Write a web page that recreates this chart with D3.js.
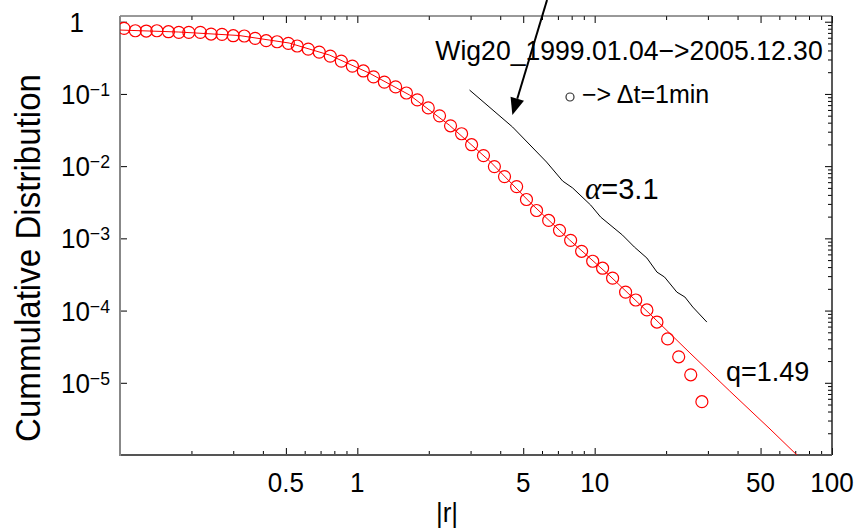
<!DOCTYPE html>
<html>
<head>
<meta charset="utf-8">
<script src="https://cdn.jsdelivr.net/npm/d3@7"></script>
<style>
  html, body { margin: 0; padding: 0; background: #fff; }
  svg { display: block; }
  text { font-family: Arial, "Liberation Sans", Helvetica, sans-serif; fill: #000; }
</style>
</head>
<body>
<div id="chart"></div>
<script>
// Data
const circleR = [0.104,0.116,0.129,0.143,0.160,0.177,0.195,0.218,0.242,0.269,0.300,0.334,0.371,0.413,0.459,0.512,0.558,
  0.621,0.691,0.769,0.856,0.953,1.06,1.17,1.30,1.45,1.61,1.79,1.99,2.22,2.47,2.75,3.03,3.40,3.78,4.17,4.69,5.16,5.69,
  6.40,7.11,7.92,8.81,9.81,10.8,11.9,13.5,14.9,16.6,18.3,20.3,22.6,25.4,28.3];
const circleP = [0.810,0.750,0.743,0.750,0.727,0.713,0.713,0.713,0.675,0.669,0.640,0.634,0.589,0.546,0.528,0.502,0.461,
  0.418,0.380,0.334,0.285,0.243,0.208,0.172,0.146,0.125,0.103,0.0826,0.0641,0.0497,0.0362,0.0281,0.0198,0.0140,
  0.00985,0.00716,0.00521,0.00345,0.00243,0.00177,0.00129,0.000938,0.000662,0.000482,0.000386,0.000281,0.000180,
  0.000140,0.000102,0.0000694,0.0000405,0.0000229,0.0000129,0.00000547];

// q-exponential fit (red line)
const fitR = [0.1,0.177,0.318,0.516,0.762,1.12,1.66,2.44,3.61,5.32,7.85,11.6,17.1,25.2,37.1,54.8,71.9];
const fitP = [0.767,0.720,0.644,0.507,0.346,0.195,0.0966,0.0370,0.01177,0.00319,0.000947,0.000301,0.0000895,
  0.0000259,0.00000767,0.00000229,9.66e-7];

// power law guide (black line)
const powR = [2.97,4.51,6.27,7.33,8.08,9.62,10.6,13.1,14.7,16.6,18.3,19.7,22.2,24.0,25.9,29.7];
const powP = [0.1132,0.0348,0.0114,0.00622,0.00498,0.00289,0.00197,0.00111,0.000758,0.000534,0.000341,0.000291,
  0.000180,0.000154,0.000112,0.0000693];

const xTicks = [0.5, 1, 5, 10, 50, 100];
const xTickLabels = ["0.5", "1", "5", "10", "50", "100"];
const yTicks = [1, 1e-1, 1e-2, 1e-3, 1e-4, 1e-5];
const yTickExp = [0, -1, -2, -3, -4, -5];

// arrow annotation in data coords: [from, to]
const arrowFrom = [6.3, 2.0];
const arrowTo = [4.5, 0.051];

const W = 857, H = 531;
const plot = { left: 120, right: 832, top: 16, bottom: 455 };

const svg = d3.select("#chart").append("svg")
  .attr("width", W).attr("height", H);

const x = d3.scaleLog().domain([0.1, 100]).range([plot.left, plot.right]);
const y = d3.scaleLog().domain([1e-6, 1.2]).range([plot.bottom, plot.top]);

svg.append("defs").append("clipPath").attr("id", "clip")
  .append("rect")
  .attr("x", plot.left).attr("y", plot.top)
  .attr("width", plot.right - plot.left).attr("height", plot.bottom - plot.top);

// minor ticks (all 1..9 x 10^n positions)
const minorX = x.ticks().filter(v => !xTicks.some(t => Math.abs(t - v) / t < 1e-6));
const minorY = y.ticks().filter(v => !yTicks.some(t => Math.abs(t - v) / t < 1e-6));

function tickAxis(axis, transform) {
  const g = svg.append("g").attr("transform", transform).call(axis);
  g.select(".domain").remove();
  g.selectAll("line").attr("stroke", "#000").attr("stroke-width", 1);
  return g;
}

// bottom / top
tickAxis(d3.axisBottom(x).tickValues(minorX).tickSize(-4).tickSizeOuter(0).tickFormat(""), `translate(0,${plot.bottom})`);
tickAxis(d3.axisBottom(x).tickValues(xTicks).tickSize(-7).tickSizeOuter(0).tickFormat(""), `translate(0,${plot.bottom})`);
tickAxis(d3.axisTop(x).tickValues(minorX).tickSize(-4).tickSizeOuter(0).tickFormat(""), `translate(0,${plot.top})`);
tickAxis(d3.axisTop(x).tickValues(xTicks).tickSize(-7).tickSizeOuter(0).tickFormat(""), `translate(0,${plot.top})`);
// left (majors only) / right
tickAxis(d3.axisLeft(y).tickValues(yTicks).tickSize(-7).tickSizeOuter(0).tickFormat(""), `translate(${plot.left},0)`);
tickAxis(d3.axisRight(y).tickValues(minorY).tickSize(-4).tickSizeOuter(0).tickFormat(""), `translate(${plot.right},0)`);
tickAxis(d3.axisRight(y).tickValues(yTicks).tickSize(-7).tickSizeOuter(0).tickFormat(""), `translate(${plot.right},0)`);

// box
svg.append("line").attr("x1", plot.left).attr("x2", plot.right).attr("y1", plot.top).attr("y2", plot.top)
  .attr("stroke", "#333").attr("stroke-width", 1);
svg.append("line").attr("x1", plot.right).attr("x2", plot.right).attr("y1", plot.top).attr("y2", plot.bottom)
  .attr("stroke", "#222").attr("stroke-width", 1.5);
svg.append("line").attr("x1", plot.left).attr("x2", plot.right).attr("y1", plot.bottom).attr("y2", plot.bottom)
  .attr("stroke", "#555").attr("stroke-width", 2);
svg.append("line").attr("x1", plot.left).attr("x2", plot.left).attr("y1", plot.top).attr("y2", plot.bottom + 1)
  .attr("stroke", "#888").attr("stroke-width", 2);

// x tick labels
svg.selectAll(".xlab").data(xTicks).enter().append("text")
  .attr("class", "xlab")
  .attr("transform", d => `translate(${x(d)},492) scale(0.93,1)`)
  .attr("text-anchor", "middle")
  .style("font-size", "28px")
  .text((d, i) => xTickLabels[i]);

// y tick labels
yTicks.forEach((t, i) => {
  const ty = y(t);
  const txt = svg.append("text")
    .attr("transform", `translate(${i === 0 ? 84 : 110},${ty + 10}) scale(0.93,1)`)
    .attr("text-anchor", "end")
    .style("font-size", "28px");
  if (yTickExp[i] === 0) {
    txt.text("1");
  } else {
    txt.append("tspan").text("10");
    txt.append("tspan").attr("dy", -8).style("font-size", "19px").text("\u2212" + Math.abs(yTickExp[i]));
  }
});

// axis titles
svg.append("text")
  .attr("transform", "translate(40,258) rotate(-90) scale(0.92,1)")
  .attr("text-anchor", "middle")
  .style("font-size", "36px")
  .text("Cummulative Distribution");

svg.append("text")
  .attr("transform", "translate(447,522) scale(0.93,1)")
  .attr("text-anchor", "middle")
  .style("font-size", "28px")
  .text("|r|");

const plotArea = svg.append("g").attr("clip-path", "url(#clip)");

// black power-law line
plotArea.append("path")
  .datum(powR.map((r, i) => [r, powP[i]]))
  .attr("fill", "none").attr("stroke", "#000").attr("stroke-width", 1)
  .attr("d", d3.line().x(d => x(d[0])).y(d => y(d[1])));

// red fit line
plotArea.append("path")
  .datum(fitR.map((r, i) => [r, fitP[i]]))
  .attr("fill", "none").attr("stroke", "#ff0000").attr("stroke-width", 1)
  .attr("d", d3.line().x(d => x(d[0])).y(d => y(d[1])));

// red circles
plotArea.selectAll(".pt").data(circleR.map((r, i) => [r, circleP[i]])).enter().append("circle")
  .attr("class", "pt")
  .attr("cx", d => x(d[0])).attr("cy", d => y(d[1]))
  .attr("r", 6)
  .attr("fill", "none").attr("stroke", "#ff0000").attr("stroke-width", 1.2);

// annotations
svg.append("text")
  .attr("transform", "translate(629,60) scale(0.95,1)")
  .attr("text-anchor", "middle")
  .style("font-size", "28px")
  .text("Wig20_1999.01.04\u2212>2005.12.30");

svg.append("circle").attr("cx", 570).attr("cy", 97).attr("r", 4)
  .attr("fill", "none").attr("stroke", "#333").attr("stroke-width", 1.2);
svg.append("text")
  .attr("x", 582).attr("y", 103)
  .style("font-size", "25px")
  .text("\u2212> \u0394t=1min");

const alpha = svg.append("text")
  .attr("x", 585).attr("y", 199)
  .style("font-size", "29px");
alpha.append("tspan").style("font-family", "'Times New Roman', 'Liberation Serif', serif")
  .style("font-style", "italic").style("font-size", "31px").text("\u03b1");
alpha.append("tspan").text("=3.1");

svg.append("text")
  .attr("x", 726).attr("y", 381)
  .style("font-size", "27px")
  .text("q=1.49");

// arrow
const ax1 = x(arrowFrom[0]), ay1 = y(arrowFrom[1]);
const ax2 = x(arrowTo[0]), ay2 = y(arrowTo[1]);
const ang = Math.atan2(ay2 - ay1, ax2 - ax1);
const headLen = 17, headHalf = 7;
const bx = ax2 - headLen * Math.cos(ang), by = ay2 - headLen * Math.sin(ang);
svg.append("line")
  .attr("x1", ax1).attr("y1", ay1).attr("x2", bx).attr("y2", by)
  .attr("stroke", "#000").attr("stroke-width", 2);
svg.append("path")
  .attr("d", `M${ax2},${ay2} L${bx + headHalf * Math.sin(ang)},${by - headHalf * Math.cos(ang)} L${bx - headHalf * Math.sin(ang)},${by + headHalf * Math.cos(ang)} Z`)
  .attr("fill", "#000");
</script>
</body>
</html>
